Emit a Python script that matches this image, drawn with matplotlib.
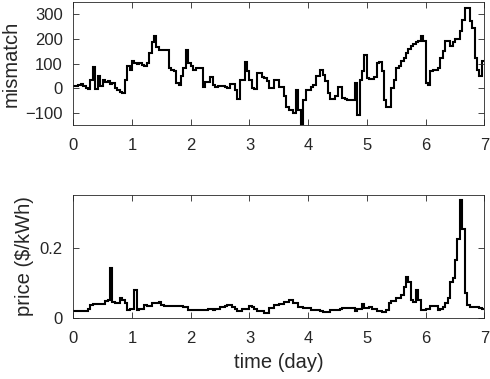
import numpy as np
import matplotlib
matplotlib.use("Agg")
import matplotlib.pyplot as plt

# hourly mismatch over 7 days (168 values)
mismatch = [
    10, 10, 14, 18, 10, 0, -5, 34, 86, -4, 50, 10, 31, 23, 27, 18, 20, 0, -7, -14, -20, 34, 88, 75,
    111, 102, 98, 102, 95, 91, 102, 142, 186, 210, 166, 156, 156, 153, 153, 81, 75, 68, 20, 14, 50, 81, 156, 102,
    88, 75, 81, 81, 81, 5, 25, 25, 45, 14, 4, 8, 8, 10, 4, 0, 16, 16, -7, -45, 34, 34, 105, 68,
    34, 0, -4, 61, 61, 45, 41, 27, 0, 0, 34, 34, 4, 4, -34, -75, -88, -88, -102, -7, -88, -150, -48, -7,
    -7, 4, 14, 48, 48, 75, 54, 27, -20, -45, -45, -34, 4, 4, -40, -45, -48, -48, -48, 20, -108, 34, 68, 136,
    41, 38, 38, 45, 102, 105, 68, -48, -75, -77, 0, 34, 81, 88, 109, 122, 142, 159, 170, 180, 186, 190, 213, 190,
    20, 14, 68, 72, 72, 81, 122, 150, 190, 190, 170, 186, 199, 199, 231, 275, 326, 326, 271, 244, 122, 75, 50, 109,
]

# hourly price ($/kWh)
price = [
    0.020, 0.020, 0.020, 0.020, 0.020, 0.020, 0.027, 0.037, 0.040, 0.040, 0.039, 0.040,
    0.041, 0.048, 0.050, 0.143, 0.045, 0.042, 0.044, 0.056, 0.052, 0.042, 0.023, 0.025,
    0.025, 0.080, 0.023, 0.026, 0.027, 0.037, 0.035, 0.035, 0.044, 0.044, 0.043, 0.046,
    0.036, 0.035, 0.035, 0.034, 0.034, 0.034, 0.034, 0.034, 0.034, 0.032, 0.030, 0.022,
    0.022, 0.022, 0.022, 0.022, 0.022, 0.022, 0.022, 0.025, 0.025, 0.022, 0.027, 0.027,
    0.032, 0.032, 0.034, 0.037, 0.037, 0.032, 0.027, 0.021, 0.021, 0.025, 0.025, 0.025,
    0.035, 0.030, 0.025, 0.020, 0.020, 0.020, 0.015, 0.015, 0.028, 0.028, 0.037, 0.037,
    0.041, 0.041, 0.046, 0.046, 0.051, 0.051, 0.042, 0.042, 0.032, 0.032, 0.028, 0.028,
    0.028, 0.024, 0.022, 0.022, 0.022, 0.020, 0.018, 0.018, 0.018, 0.022, 0.022, 0.022,
    0.024, 0.027, 0.029, 0.029, 0.029, 0.029, 0.029, 0.020, 0.025, 0.025, 0.039, 0.029,
    0.029, 0.032, 0.025, 0.025, 0.020, 0.020, 0.018, 0.018, 0.023, 0.042, 0.048, 0.048,
    0.056, 0.056, 0.065, 0.089, 0.117, 0.103, 0.051, 0.046, 0.079, 0.051, 0.023, 0.023,
    0.025, 0.027, 0.035, 0.033, 0.033, 0.023, 0.027, 0.030, 0.042, 0.056, 0.103, 0.113,
    0.165, 0.226, 0.335, 0.254, 0.070, 0.037, 0.032, 0.032, 0.032, 0.030, 0.028, 0.026,
]

x_ticks = [0, 1, 2, 3, 4, 5, 6, 7]
mm_ticks = [-100, 0, 100, 200, 300]
pr_ticks = [0, 0.2]
pr_ticklabels = ["0", "0.2"]

plt.rcParams['font.family'] = ['Liberation Sans', 'DejaVu Sans']

fig = plt.figure(figsize=(4.9, 3.79), dpi=100)
ax1 = fig.add_axes([0.1496, 0.6702, 0.8388, 0.3245])
ax2 = fig.add_axes([0.1496, 0.1609, 0.8388, 0.3245])

edges1 = np.arange(len(mismatch) + 1) / 24.0
edges2 = np.arange(len(price) + 1) / 24.0
ax1.stairs(mismatch, edges1, color='black', linewidth=1.5, baseline=None)
ax2.stairs(price, edges2, color='black', linewidth=1.5, baseline=None)

frame = '#262626'
for ax in (ax1, ax2):
    ax.set_xlim(0, 7)
    ax.set_xticks(x_ticks)
    ax.tick_params(direction='in', top=True, right=True, length=4, width=0.6,
                   color=frame, labelsize=12, labelcolor=frame)
    ax.tick_params(axis='x', pad=9.5)
    ax.tick_params(axis='y', pad=7.5)
    for s in ax.spines.values():
        s.set_color(frame)
        s.set_linewidth(0.6)

ax1.set_ylim(-150, 350)
ax1.set_yticks(mm_ticks)
ax2.set_ylim(0, 0.35)
ax2.set_yticks(pr_ticks)
ax2.set_yticklabels(pr_ticklabels)

ax1.set_ylabel('mismatch', fontsize=14.5, color=frame)
ax2.set_ylabel('price ($/kWh)', fontsize=14.5, color=frame)
ax2.set_xlabel('time (day)', fontsize=14.5, color=frame, labelpad=5)
ax1.yaxis.set_label_coords(-0.128, 0.5)
ax2.yaxis.set_label_coords(-0.096, 0.5)

fig.savefig('out.png', dpi=100)
